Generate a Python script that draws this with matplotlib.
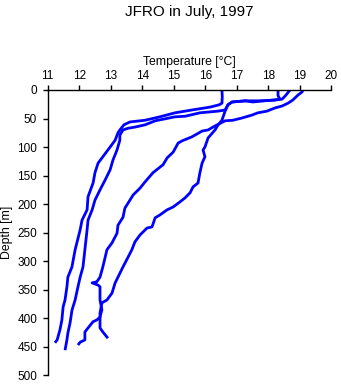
import matplotlib
matplotlib.use("Agg")
import matplotlib.pyplot as plt

plt.rcParams['font.family'] = ['Liberation Sans', 'DejaVu Sans']

title = "JFRO in July, 1997"
xlabel = "Temperature [°C]"
ylabel = "Depth [m]"
xticks = [11, 12, 13, 14, 15, 16, 17, 18, 19, 20]
yticks = [0, 50, 100, 150, 200, 250, 300, 350, 400, 450, 500]

# Profile 1: starts 16.5 at surface
t1 = [16.53, 16.54, 16.53, 16.44, 16.15, 15.58, 15.04, 14.56, 14.09, 13.61, 13.42, 13.29,
      13.23, 13.14, 12.98, 12.75, 12.60, 12.50, 12.44, 12.28, 12.25, 12.09, 12.03, 11.87,
      11.77, 11.64, 11.61, 11.55, 11.49, 11.45, 11.39, 11.30, 11.23]
d1 = [0, 12, 23, 26, 30, 35, 40, 47, 53, 56, 61, 70,
      75, 88, 100, 117, 128, 145, 163, 187, 210, 228, 245, 280,
      310, 328, 345, 368, 380, 403, 420, 438, 443]

# Profile 2: starts 18.3 at surface
t2 = [18.31, 18.31, 18.37, 18.21, 17.83, 17.51, 17.27, 16.85, 16.72, 16.63, 16.41, 15.83,
      15.36, 15.04, 14.41, 14.09, 13.77, 13.55, 13.39, 13.29, 13.29, 13.20, 13.07, 12.98,
      12.82, 12.66, 12.50, 12.41, 12.28, 12.25, 12.18, 12.12, 12.03, 11.96, 11.87, 11.77,
      11.71, 11.64, 11.61, 11.55]
d2 = [0, 10, 16, 17.5, 19, 21, 19, 21, 26, 35, 37, 40,
      46, 47, 54, 61, 65, 67, 70, 79, 88, 105, 123, 140,
      158, 175, 193, 210, 228, 245, 280, 310, 328, 345, 368, 386,
      408, 426, 438, 456]

# Profile 3: starts 18.7 at surface
t3 = [18.69, 18.56, 18.44, 18.21, 17.83, 17.27, 16.85, 16.72, 16.63, 16.53, 16.41, 16.31,
      16.09, 15.99, 15.93, 15.99, 15.90, 15.83, 15.77, 15.61, 15.52, 15.36, 15.20, 14.98,
      14.79, 14.56, 14.41, 14.31, 14.15, 13.93, 13.77, 13.67, 13.55, 13.39, 13.23, 13.14,
      13.04, 12.88, 12.72, 12.66, 12.66, 12.75, 12.91]
d3 = [0, 9, 16, 17.5, 19, 19, 21, 26, 37, 53, 61, 70,
      84, 100, 105, 117, 128, 145, 163, 170, 180, 189, 196, 205,
      210, 219, 224, 240, 242, 254, 266, 280, 293, 310, 328, 338,
      356, 368, 373, 391, 417, 424, 435]

# Profile 4: starts 19.1 at surface
t4 = [19.10, 19.07, 18.94, 18.78, 18.63, 18.44, 18.21, 17.96, 17.67, 17.48, 17.17, 16.88,
      16.63, 16.31, 16.09, 15.90, 15.58, 15.27, 15.14, 14.98, 14.79, 14.66, 14.34, 14.09,
      13.93, 13.71, 13.61, 13.45, 13.39, 13.23, 13.20, 13.04, 12.88, 12.75, 12.66, 12.56,
      12.41, 12.60, 12.66, 12.66, 12.72, 12.66, 12.56, 12.44, 12.28, 12.18, 12.18, 12.03,
      11.96]
d4 = [0, 3.5, 9, 17.5, 23, 28, 31.5, 37, 40, 44, 49, 53,
      54, 63, 70, 72, 82, 89, 93, 109, 119, 131, 145, 161,
      172, 184, 193, 207, 223, 237, 251, 268, 280, 310, 328, 336,
      338, 342, 345, 368, 385, 398, 403, 406, 417, 424, 438, 442,
      447]

fig = plt.figure(figsize=(3.41, 3.84), dpi=100)
ax = fig.add_axes([47.7 / 341, 1 - 375.3 / 384, (331.3 - 47.7) / 341, (375.3 - 90) / 384])

color = '#0000FF'
for t, d in [(t1, d1), (t2, d2), (t3, d3), (t4, d4)]:
    ax.plot(t, d, color=color, lw=2.0, solid_capstyle='butt')

ax.set_xlim(11, 20)
ax.set_ylim(500, 0)
ax.set_xticks(xticks)
ax.set_yticks(yticks)
ax.xaxis.tick_top()
ax.xaxis.set_label_position('top')
ax.spines['right'].set_visible(False)
ax.spines['bottom'].set_visible(False)
for s in ['top', 'left']:
    ax.spines[s].set_linewidth(1.0)
ax.tick_params(axis='both', direction='out', length=3.6, width=1.0, labelsize=8.5, pad=2.5)
ax.tick_params(axis='y', pad=4)
ax.set_xlabel(xlabel, fontsize=8.8, labelpad=3)
ax.set_ylabel(ylabel, fontsize=8.8, labelpad=3)
fig.text(189.5 / 341, 1 - 12 / 384, title, ha='center', va='center', fontsize=11)

fig.savefig('out.png', dpi=100)
